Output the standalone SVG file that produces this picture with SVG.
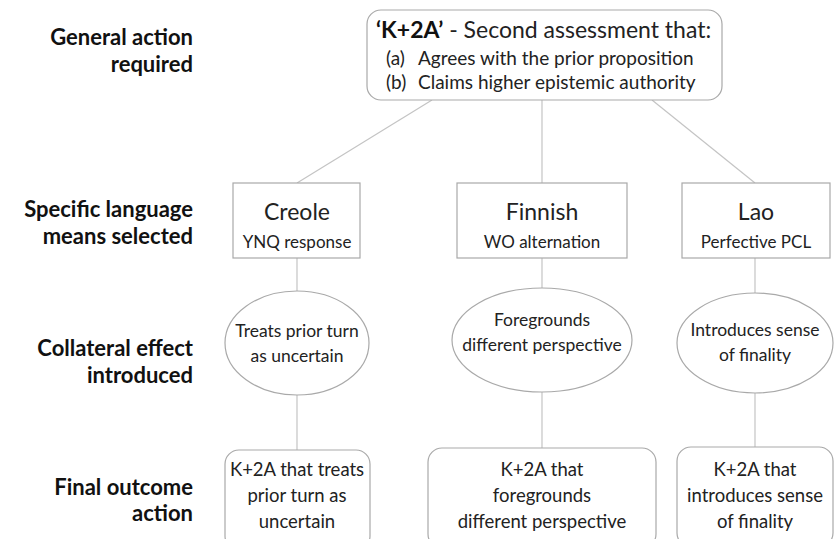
<svg xmlns="http://www.w3.org/2000/svg" width="838" height="539" viewBox="0 0 838 539">
<style>
.lab{font-family:Lato,"Liberation Sans",sans-serif;font-weight:bold;font-size:22px;fill:#111;text-anchor:end}
.t{font-family:Lato,"Liberation Sans",sans-serif;fill:#222;text-anchor:middle}
.s{fill:#fff;stroke:#a9a9a9;stroke-width:1.2}
.c{stroke:#c4c4c4;stroke-width:1.2;fill:none}
</style>
<rect width="838" height="539" fill="#fff"/>
<g id="labels">
<text class="lab" x="193" y="45">General action</text>
<text class="lab" x="193" y="72">required</text>
<text class="lab" x="193" y="217">Specific language</text>
<text class="lab" x="193" y="244">means selected</text>
<text class="lab" x="193" y="356">Collateral effect</text>
<text class="lab" x="193" y="383">introduced</text>
<text class="lab" x="193" y="495">Final outcome</text>
<text class="lab" x="193" y="521">action</text>
</g>
<g id="connectors">
<line class="c" x1="432" y1="100" x2="297" y2="183"/>
<line class="c" x1="542" y1="100" x2="542" y2="183"/>
<line class="c" x1="652" y1="100" x2="755" y2="183"/>
<line class="c" x1="297" y1="258" x2="297" y2="291"/>
<line class="c" x1="542" y1="258" x2="542" y2="288"/>
<line class="c" x1="755" y1="258" x2="755" y2="293"/>
<line class="c" x1="297" y1="395" x2="297" y2="450"/>
<line class="c" x1="542" y1="392" x2="542" y2="448"/>
<line class="c" x1="755" y1="393" x2="755" y2="447"/>
</g>
<g id="top">
<rect class="s" x="367" y="10" width="355" height="90" rx="14"/>
<text class="t" x="376" y="38" style="text-anchor:start;font-size:23px"><tspan font-weight="bold" fill="#111">‘K+2A’</tspan> - Second assessment that:</text>
<text class="t" x="386" y="65" style="text-anchor:start;font-size:19px">(a)</text>
<text class="t" x="418" y="65" style="text-anchor:start;font-size:19px">Agrees with the prior proposition</text>
<text class="t" x="386" y="89" style="text-anchor:start;font-size:19px">(b)</text>
<text class="t" x="418" y="89" style="text-anchor:start;font-size:19px">Claims higher epistemic authority</text>
</g>
<g id="creole">
<rect class="s" x="233" y="183" width="127" height="75"/>
<text class="t" x="297" y="220" font-size="23">Creole</text>
<text class="t" x="297" y="248" font-size="17">YNQ response</text>
</g>
<g id="finnish">
<rect class="s" x="457" y="183" width="170" height="75"/>
<text class="t" x="542" y="220" font-size="23">Finnish</text>
<text class="t" x="542" y="248" font-size="17">WO alternation</text>
</g>
<g id="lao">
<rect class="s" x="682" y="183" width="148" height="75"/>
<text class="t" x="756" y="220" font-size="23">Lao</text>
<text class="t" x="756" y="248" font-size="17">Perfective PCL</text>
</g>
<g id="effect-creole">
<ellipse class="s" cx="297" cy="343" rx="72" ry="52"/>
<text class="t" x="297" y="337" font-size="17.5">Treats prior turn</text>
<text class="t" x="297" y="362" font-size="17.5">as uncertain</text>
</g>
<g id="effect-finnish">
<ellipse class="s" cx="542" cy="340" rx="90" ry="52"/>
<text class="t" x="542" y="326" font-size="17.5">Foregrounds</text>
<text class="t" x="542" y="351" font-size="17.5">different perspective</text>
</g>
<g id="effect-lao">
<ellipse class="s" cx="755" cy="343" rx="78" ry="50"/>
<text class="t" x="755" y="336" font-size="17.5">Introduces sense</text>
<text class="t" x="755" y="361" font-size="17.5">of finality</text>
</g>
<g id="outcome-creole">
<rect class="s" x="225" y="450" width="145" height="100" rx="14"/>
<text class="t" x="297" y="476" font-size="18.5">K+2A that treats</text>
<text class="t" x="297" y="502" font-size="18.5">prior turn as</text>
<text class="t" x="297" y="528" font-size="18.5">uncertain</text>
</g>
<g id="outcome-finnish">
<rect class="s" x="428" y="448" width="228" height="100" rx="14"/>
<text class="t" x="542" y="476" font-size="18.5">K+2A that</text>
<text class="t" x="542" y="502" font-size="18.5">foregrounds</text>
<text class="t" x="542" y="528" font-size="18.5">different perspective</text>
</g>
<g id="outcome-lao">
<rect class="s" x="677" y="447" width="156" height="100" rx="14"/>
<text class="t" x="755" y="476" font-size="18.5">K+2A that</text>
<text class="t" x="755" y="502" font-size="18.5">introduces sense</text>
<text class="t" x="755" y="528" font-size="18.5">of finality</text>
</g>
</svg>
